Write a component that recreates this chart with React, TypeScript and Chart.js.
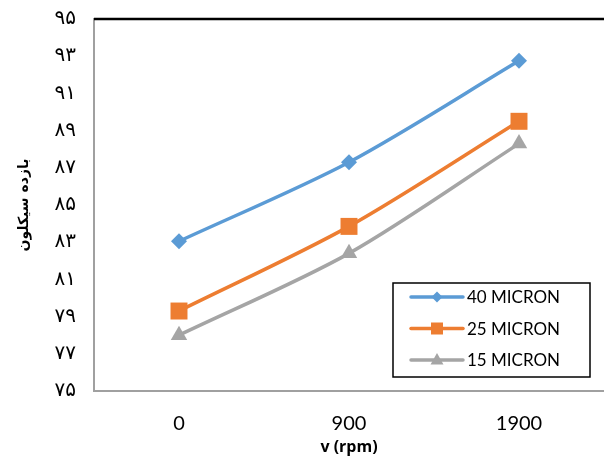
import React, { useEffect, useRef } from "react";
import { Chart, registerables } from "chart.js";

Chart.register(...registerables);

const categories = ["0", "900", "1900"];
const seriesNames = ["40 MICRON", "25 MICRON", "15 MICRON"];
const values40 = [83.05, 87.3, 92.75];
const values25 = [79.3, 83.85, 89.5];
const values15 = [78.0, 82.4, 88.3];
const yTickValues = [75, 77, 79, 81, 83, 85, 87, 89, 91, 93, 95];
const yTickLabels = ["۷۵", "۷۷", "۷۹", "۸۱", "۸۳", "۸۵", "۸۷", "۸۹", "۹۱", "۹۳", "۹۵"];
const yTitle = "بازده سیکلون";
const xTitle = "v (rpm)";

const colors = ["#5B9BD5", "#ED7D31", "#A5A5A5"];
const markers = ["rectRot", "rect", "triangle"];
const markerSizes = [8, 12, 9.5];

const frameAndLegend = {
  id: "frameAndLegend",
  afterDraw(chart: any) {
    const ctx = chart.ctx;
    const a = chart.chartArea;
    ctx.save();
    ctx.strokeStyle = "#000";
    ctx.lineWidth = 2.5;
    ctx.beginPath();
    ctx.moveTo(a.left, a.top);
    ctx.lineTo(chart.width, a.top);
    ctx.stroke();
    const bx = 393, by = 283, bw = 197, bh = 94;
    ctx.fillStyle = "#fff";
    ctx.fillRect(bx, by, bw, bh);
    ctx.strokeStyle = "#000";
    ctx.lineWidth = 1.5;
    ctx.strokeRect(bx, by, bw, bh);
    chart.data.datasets.forEach((ds: any, i: number) => {
      const y = by + 14 + i * 31.5;
      ctx.strokeStyle = ds.borderColor;
      ctx.lineWidth = 3.5;
      ctx.lineCap = "round";
      ctx.beginPath();
      ctx.moveTo(411, y);
      ctx.lineTo(463, y);
      ctx.stroke();
      ctx.fillStyle = ds.backgroundColor;
      ctx.beginPath();
      if (ds.pointStyle === "rectRot") {
        const r = 5.5;
        ctx.moveTo(437, y - r);
        ctx.lineTo(437 + r, y);
        ctx.lineTo(437, y + r);
        ctx.lineTo(437 - r, y);
      } else if (ds.pointStyle === "rect") {
        ctx.rect(431, y - 6, 12, 12);
      } else {
        ctx.moveTo(437, y - 7);
        ctx.lineTo(443.5, y + 4.5);
        ctx.lineTo(430.5, y + 4.5);
      }
      ctx.closePath();
      ctx.fill();
      ctx.fillStyle = "#000";
      ctx.font = "17px Lato";
      ctx.textBaseline = "middle";
      ctx.textAlign = "left";
      ctx.fillText(ds.label, 467, y + 1);
    });
    ctx.restore();
  },
};

export default function App() {
  const ref = useRef<HTMLCanvasElement>(null);
  useEffect(() => {
    const seriesValues = [values40, values25, values15];
    const chart = new Chart(ref.current!, {
      type: "line",
      data: {
        labels: categories,
        datasets: seriesNames.map((name, i) => ({
          label: name,
          data: seriesValues[i],
          borderColor: colors[i],
          backgroundColor: colors[i],
          pointBackgroundColor: colors[i],
          pointBorderColor: colors[i],
          pointBorderWidth: 0,
          pointStyle: markers[i] as any,
          pointRadius: markerSizes[i],
          borderWidth: 3.5,
          tension: 0.3,
          clip: false as any,
        })),
      },
      options: {
        responsive: false,
        animation: false,
        devicePixelRatio: 1,
        layout: { autoPadding: false, padding: { left: 16, top: 19, right: 0, bottom: 0 } },
        plugins: { legend: { display: false }, tooltip: { enabled: false } },
        scales: {
          x: {
            offset: true,
            grid: { display: false, drawTicks: false },
            border: { display: true, color: "#A0A0A0", width: 2 },
            ticks: { color: "#000", font: { family: "Lato", size: 20 }, padding: 21 },
            title: {
              display: true,
              text: xTitle,
              color: "#000",
              font: { family: "Open Sans", size: 16, weight: "bold" },
              padding: { top: -5, bottom: 0 },
            },
            afterFit: (s: any) => { s.height = 66; s.paddingLeft = 0; s.paddingRight = 0; },
          },
          y: {
            min: 75,
            max: 95,
            afterBuildTicks: (s: any) => { s.ticks = yTickValues.map((v) => ({ value: v })); },
            grid: { display: false, drawTicks: false },
            border: { display: true, color: "#A0A0A0", width: 2 },
            ticks: {
              color: "#000",
              font: { family: "DejaVu Sans", size: 20 },
              padding: 18,
              callback: (v: any) => {
                const idx = yTickValues.indexOf(Number(v));
                return idx >= 0 ? yTickLabels[idx] : "";
              },
            },
            title: {
              display: true,
              text: yTitle,
              color: "#000",
              font: { family: "DejaVu Sans", size: 14, weight: "bold" },
              padding: 0,
            },
            afterFit: (s: any) => { s.width = 78; s.paddingTop = 0; s.paddingBottom = 0; },
          },
        },
      },
      plugins: [frameAndLegend],
    });
    return () => chart.destroy();
  }, []);
  return (
    <div style={{ position: "fixed", left: 0, top: 0, width: 604, height: 457, background: "#fff" }}>
      <canvas ref={ref} width={604} height={457} />
    </div>
  );
}
